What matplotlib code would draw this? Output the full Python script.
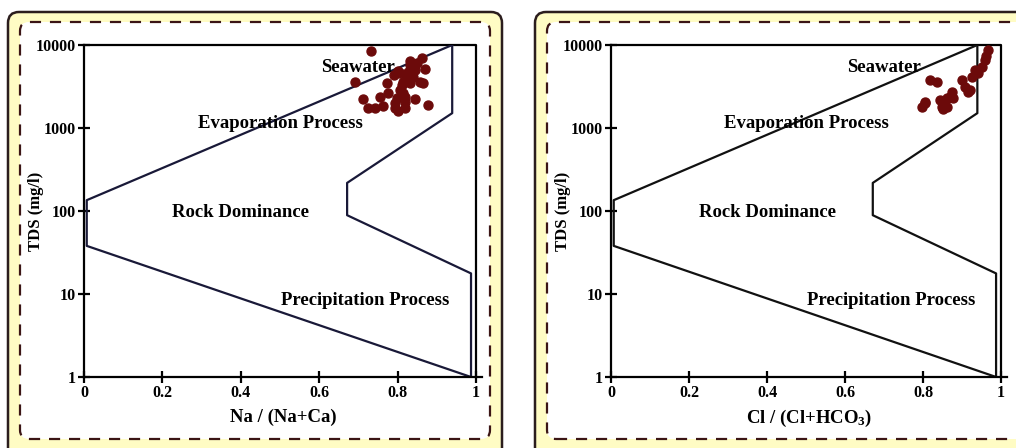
import matplotlib
matplotlib.use('Agg')
import matplotlib.pyplot as plt
from matplotlib.patches import FancyBboxPatch
from matplotlib.transforms import IdentityTransform

plt.rcParams['font.family'] = ['Liberation Serif', 'DejaVu Serif']
plt.rcParams['font.weight'] = 'bold'
plt.rcParams['mathtext.default'] = 'regular'

# 样本数据 (Gibbs 图)
na_ratio = [0.731, 0.691, 0.832, 0.861, 0.849, 0.832, 0.802, 0.827, 0.806, 0.823,
            0.840, 0.857, 0.814, 0.865, 0.832, 0.772, 0.810, 0.806, 0.776, 0.814,
            0.819, 0.755, 0.798, 0.712, 0.844, 0.819, 0.793, 0.763, 0.878, 0.725,
            0.742, 0.793, 0.819, 0.800, 0.870, 0.845, 0.790]
tds_na = [8500, 3560, 6450, 6900, 6050, 5700, 4800, 4700, 4570, 4150,
          4150, 3600, 3610, 3470, 3470, 3450, 3300, 2870, 2640, 2650,
          2390, 2360, 2280, 2230, 2230, 2050, 2000, 1850, 1900, 1740,
          1740, 1740, 1740, 1620, 5200, 5000, 4400]

cl_ratio = [0.967, 0.962, 0.959, 0.950, 0.933, 0.941, 0.925, 0.899, 0.908, 0.921,
            0.916, 0.874, 0.818, 0.835, 0.869, 0.877, 0.861, 0.844, 0.852, 0.805,
            0.848, 0.861, 0.797, 0.852, 0.805]
tds_cl = [8700, 7400, 6600, 5480, 5000, 4600, 4150, 3780, 3150, 2870,
          2740, 2740, 3780, 3610, 2390, 2290, 2280, 2170, 2080, 2000,
          1810, 1810, 1810, 1700, 2080]

# Gibbs 边界线
outer_x = [0.939, 0.007, 0.007, 0.987]
outer_y = [10000, 135, 38, 1]
inner_x = [0.939, 0.939, 0.671, 0.671, 0.987, 0.987]
inner_y = [10000, 1510, 218, 89, 17.7, 1]

labels = ['Seawater', 'Evaporation Process', 'Rock Dominance', 'Precipitation Process']
label_x = [0.70, 0.50, 0.40, 0.717]
label_y = [5400, 1120, 95, 8.3]

fig = plt.figure(figsize=(10.16, 4.48), dpi=100)

# 背景面板 (像素坐标)
def panel(x0, x1):
    outer = FancyBboxPatch((x0, -40), x1 - x0, 436 + 40,
                           boxstyle='round,pad=0,rounding_size=11',
                           facecolor='#fffcc4', edgecolor='#2b1d1d', linewidth=1.8,
                           transform=IdentityTransform(), zorder=0)
    fig.add_artist(outer)
    inner = FancyBboxPatch((x0 + 12, 9), x1 - x0 - 24, 426 - 9,
                           boxstyle='round,pad=0,rounding_size=9',
                           facecolor='white', edgecolor='#3b1515', linewidth=1.6,
                           linestyle=(0, (5, 4)),
                           transform=IdentityTransform(), zorder=0)
    fig.add_artist(inner)

panel(8, 502)
panel(535, 1060)


def gibbs(rect, xs, ys, xlabel, line_color):
    ax = fig.add_axes(rect)
    ax.set_facecolor('none')
    ax.set_yscale('log')
    ax.set_xlim(0, 1.015)
    ax.set_ylim(1, 10000)

    # 外框
    ax.plot([0, 1, 1], [10000, 10000, 1], color='black', linewidth=1.6, clip_on=False)
    ax.plot(outer_x, outer_y, color=line_color, linewidth=1.6)
    ax.plot(inner_x, inner_y, color=line_color, linewidth=1.6)

    ax.scatter(xs, ys, s=42, color='#6c0a0a', zorder=5, clip_on=False)

    for t, lx, ly in zip(labels, label_x, label_y):
        ax.text(lx, ly, t, ha='center', va='center', fontsize=13.5, fontweight='bold')

    ax.spines['top'].set_visible(False)
    ax.spines['right'].set_visible(False)
    for s in ['left', 'bottom']:
        ax.spines[s].set_linewidth(1.6)

    ax.set_xticks([0, 0.2, 0.4, 0.6, 0.8, 1])
    ax.set_xticklabels(['0', '0.2', '0.4', '0.6', '0.8', '1'])
    ax.set_yticks([1, 10, 100, 1000, 10000])
    ax.set_yticklabels(['1', '10', '100', '1000', '10000'])
    ax.minorticks_off()
    ax.tick_params(direction='inout', length=8, width=1.6, labelsize=11.5, pad=2)

    ax.set_xlabel(xlabel, fontsize=13.5, fontweight='bold', labelpad=5)
    ax.set_ylabel('TDS (mg/l)', fontsize=12, fontweight='bold')
    ax.yaxis.set_label_coords(-0.10, 0.5)
    return ax


gibbs([84 / 1016, 71 / 448, 398 / 1016, 332 / 448], na_ratio, tds_na,
      'Na / (Na+Ca)', '#191938')
gibbs([611 / 1016, 71 / 448, 396 / 1016, 332 / 448], cl_ratio, tds_cl,
      'Cl / (Cl+HCO$_3$)', '#111111')

fig.savefig('out.png', dpi=100)
